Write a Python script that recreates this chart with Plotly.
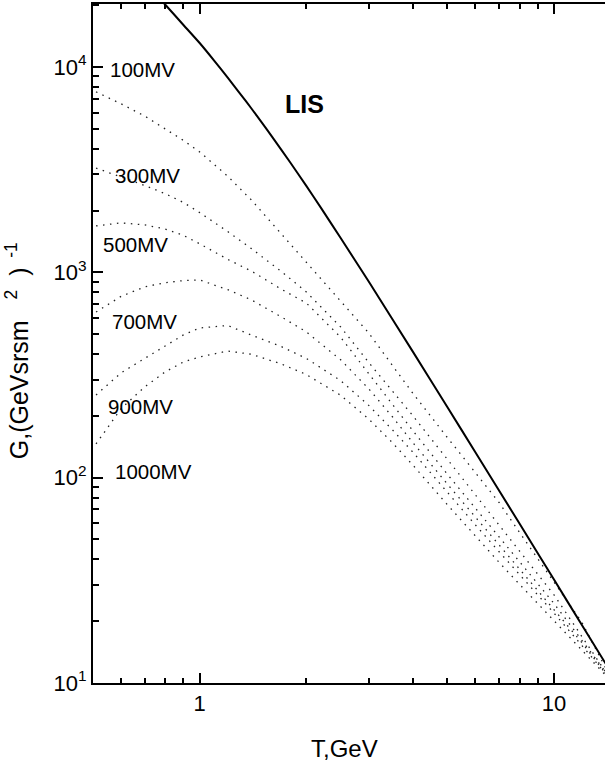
import numpy as np
import plotly.graph_objects as go

# ---------------- data ----------------
T_lis = [0.7, 0.8, 0.9, 1.0, 1.1, 1.2, 1.3, 1.4, 1.5, 1.6, 1.8, 2.0, 2.2, 2.5, 3.0,
         4.0, 5.0, 6.0, 8.0, 10.0, 12.0, 14.0]
G_lis = [25700, 20100, 16030, 13090, 10720, 8870, 7430, 6280, 5350, 4580, 3436, 2636,
         2061, 1469, 902, 410, 221, 133, 59.6, 31.9, 19.1, 12.4]

T_mod = [0.51, 0.6, 0.7, 0.8, 0.9, 1.0, 1.2, 1.4, 1.7, 2.0, 2.5, 3.0, 3.5, 4.0,
         5.0, 6.0, 7.0, 8.0, 10.0, 12.0, 14.0]
G_100 = [7570, 6620, 5770, 5010, 4390, 3860, 2940, 2250, 1540, 1110, 722, 507, 352, 257,
         157, 105, 75.7, 54.0, 31.0, 19.7, 11.8]
G_300 = [3220, 2920, 2650, 2415, 2190, 1955, 1580, 1305, 1010, 803, 542, 364, 264, 200,
         123, 82.4, 58.7, 43.9, 26.9, 16.8, 11.3]
G_500 = [1683, 1742, 1702, 1625, 1513, 1378, 1157, 1014, 828, 709, 483, 321, 228, 169,
         104, 71.1, 51.4, 38.9, 24.4, 16.1, 11.3]
G_700 = [641, 764, 850, 891, 912, 918, 824, 734, 607, 513, 375, 271, 198, 148,
         93.2, 64.4, 47.0, 35.9, 22.9, 15.7, 11.1]
G_900 = [253, 324, 381, 437, 496, 536, 551, 495, 435, 381, 297, 225, 171, 133,
         84.5, 58.9, 43.6, 33.7, 21.9, 15.2, 11.1]
G_1000 = [146, 217, 277, 328, 366, 387, 414, 399, 358, 318, 252, 193, 148, 115,
          73.9, 51.9, 38.7, 30.2, 20.1, 14.4, 10.9]

mod_series = [G_100, G_300, G_500, G_700, G_900, G_1000]
mod_labels = ["100MV", "300MV", "500MV", "700MV", "900MV", "1000MV"]

x_major = [1, 10]
x_major_text = ["1", "10"]
x_minor = [0.6, 0.7, 0.8, 0.9, 2, 3, 4, 5, 6, 7, 8, 9]
y_major = [10, 100, 1000, 10000]
y_major_text = ["10<sup>1</sup>", "10<sup>2</sup>", "10<sup>3</sup>", "10<sup>4</sup>"]
y_minor = [m * 10 ** k for k in range(1, 5) for m in range(2, 10) if m * 10 ** k < 21000]

# ---------------- figure ----------------
FONT = "Liberation Sans, Arial, Helvetica, sans-serif"
XR = [np.log10(0.5), 1.144]
YR = [1, 4.307]
fig = go.Figure()

for g in mod_series:
    fig.add_trace(go.Scatter(x=T_mod, y=g, mode="lines",
                             line=dict(color="#222", width=1.3, dash="1.5px,5.5px"),
                             showlegend=False, hoverinfo="skip"))

fig.add_trace(go.Scatter(x=T_lis, y=G_lis, mode="lines", line_shape="spline",
                         line=dict(color="black", width=2, smoothing=0.6),
                         showlegend=False, hoverinfo="skip"))

# curve labels (positions in log10 units of the axes)
label_pos = [(-0.258, 3.986), (-0.244, 3.474), (-0.278, 3.138),
             (-0.253, 2.763), (-0.264, 2.349), (-0.244, 2.028)]
for (lx, ly), txt in zip(label_pos, mod_labels):
    fig.add_annotation(x=lx, y=ly, xref="x", yref="y", text=txt, showarrow=False,
                       xanchor="left", yanchor="middle",
                       font=dict(family=FONT, size=20.5, color="black"))

fig.add_annotation(x=0.2345, y=3.82, xref="x", yref="y", text="<b>LIS</b>",
                   showarrow=False, xanchor="left", yanchor="middle",
                   font=dict(family=FONT, size=25, color="black"))

fig.add_annotation(x=0.492, y=-0.096, xref="paper", yref="paper", text="T,GeV",
                   showarrow=False, xanchor="center", yanchor="middle",
                   font=dict(family=FONT, size=24, color="black"))

fig.add_annotation(x=-0.148, y=0.489, xref="paper", yref="paper",
                   text="G,(GeVsrsm&nbsp;&nbsp;&nbsp;<sup>2</sup>&nbsp;&nbsp;)<sup>&nbsp;&nbsp;-1</sup>",
                   textangle=-90,
                   showarrow=False, xanchor="center", yanchor="middle",
                   font=dict(family=FONT, size=25, color="black"))

fig.update_layout(
    xaxis=dict(type="log", range=XR,
               tickmode="array", tickvals=x_major, ticktext=x_major_text,
               ticks="inside", ticklen=10, tickwidth=2, tickcolor="black",
               showline=True, linecolor="black", linewidth=2, mirror="ticks",
               showgrid=False, zeroline=False,
               tickfont=dict(family=FONT, size=22, color="black"),
               minor=dict(tickmode="array", tickvals=x_minor, ticks="inside",
                          ticklen=5, tickwidth=2, tickcolor="black", showgrid=False)),
    yaxis=dict(type="log", range=YR,
               tickmode="array", tickvals=y_major, ticktext=y_major_text,
               ticks="inside", ticklen=10, tickwidth=2, tickcolor="black",
               showline=True, linecolor="black", linewidth=2,
               showgrid=False, zeroline=False,
               tickfont=dict(family=FONT, size=22, color="black"),
               minor=dict(tickmode="array", tickvals=y_minor, ticks="inside",
                          ticklen=6, tickwidth=2, tickcolor="black", showgrid=False)),
    width=605, height=767, autosize=False,
    margin=dict(l=93, r=0, t=4, b=84),
    paper_bgcolor="white", plot_bgcolor="white",
    font=dict(family=FONT, color="black"),
    showlegend=False,
)

fig.write_html("out.html", config={"displayModeBar": False},
               post_script="document.body.style.margin='0';"
                           "document.body.style.overflow='hidden';")
